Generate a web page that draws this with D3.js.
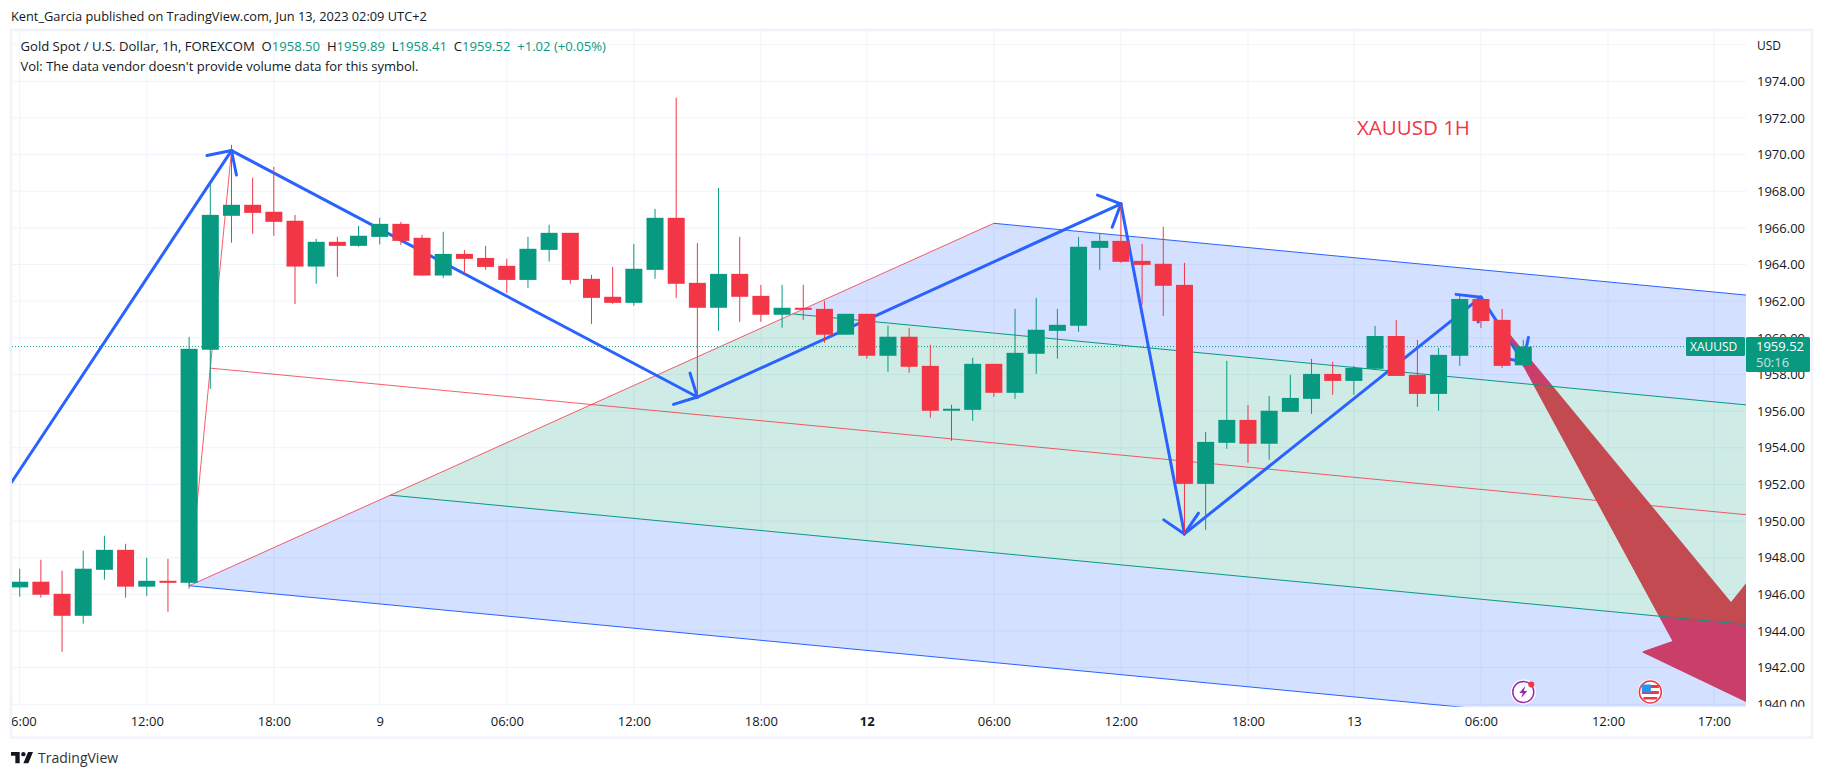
<!DOCTYPE html>
<html>
<head>
<meta charset="utf-8">
<script src="https://cdn.jsdelivr.net/npm/d3@7/dist/d3.min.js"></script>
<style>
  body { margin: 0; background: #fff; }
  svg { display: block; }
  text { font-family: "Open Sans", sans-serif; fill: #131722; }
</style>
</head>
<body>
<div id="chart"></div>
<script>
// hourly candles (bar 0 is the partly hidden 06:00 one)
const barOpen = [1946.38,1946.69,1946.03,1944.83,1947.34,1948.43,1946.42,1946.74,1946.63,1959.35,1966.66,1967.26,1966.88,1966.39,1963.89,1965.24,1965.02,1965.51,1966.22,1965.46,1963.40,1964.58,1964.36,1963.93,1963.16,1964.80,1965.73,1963.22,1962.24,1961.91,1963.71,1966.55,1963.00,1961.64,1963.49,1962.29,1961.26,1961.64,1961.58,1960.17,1961.31,1959.02,1960.06,1958.47,1956.02,1956.07,1958.58,1957.00,1959.13,1960.38,1960.66,1964.91,1965.29,1964.20,1964.04,1962.89,1952.03,1954.27,1955.52,1954.22,1955.96,1956.67,1958.03,1957.65,1958.31,1960.10,1957.98,1956.94,1959.02,1962.12,1960.98,1958.50];
const barHigh = [1947.40,1947.89,1947.29,1948.38,1949.20,1948.76,1948.00,1947.94,1960.05,1968.44,1970.53,1968.73,1969.33,1966.71,1965.40,1965.51,1966.11,1966.55,1966.33,1965.62,1965.79,1964.80,1965.02,1964.31,1965.51,1966.17,1965.73,1963.44,1963.87,1965.13,1967.04,1973.10,1965.18,1968.18,1965.51,1962.89,1962.89,1962.89,1962.02,1961.31,1961.31,1960.66,1960.55,1959.62,1956.35,1958.91,1958.58,1961.58,1962.18,1961.58,1965.51,1965.67,1967.26,1965.13,1966.06,1964.09,1954.87,1958.74,1956.34,1956.83,1957.98,1958.85,1958.69,1958.47,1960.65,1960.98,1959.89,1959.45,1962.29,1962.12,1961.58,1959.89];
const barLow = [1945.87,1945.82,1942.87,1944.40,1946.80,1945.82,1945.92,1945.05,1946.31,1957.22,1965.19,1965.68,1965.57,1961.85,1962.95,1963.33,1964.97,1965.10,1965.08,1963.40,1963.27,1963.49,1963.71,1962.45,1962.73,1964.16,1962.95,1960.76,1961.85,1961.75,1963.22,1962.18,1956.71,1960.38,1960.87,1960.87,1960.55,1960.98,1959.73,1960.17,1958.86,1958.15,1958.09,1955.64,1954.38,1955.47,1956.78,1956.67,1958.04,1958.86,1960.33,1963.71,1964.09,1961.80,1961.20,1949.28,1949.52,1953.94,1953.18,1953.34,1955.96,1955.85,1956.89,1956.89,1958.25,1957.92,1956.23,1956.02,1958.47,1960.54,1958.36,1958.41];
const barClose = [1946.69,1945.98,1944.83,1947.40,1948.43,1946.42,1946.74,1946.63,1959.40,1966.71,1967.26,1966.82,1966.33,1963.89,1965.24,1965.02,1965.57,1966.22,1965.29,1963.40,1964.58,1964.31,1963.87,1963.16,1964.86,1965.73,1963.16,1962.18,1961.91,1963.77,1966.55,1962.95,1961.64,1963.49,1962.24,1961.26,1961.64,1961.53,1960.17,1961.31,1959.02,1960.06,1958.42,1956.02,1956.13,1958.58,1957.00,1959.18,1960.44,1960.71,1964.97,1965.29,1964.15,1963.98,1962.84,1952.03,1954.32,1955.52,1954.22,1956.02,1956.72,1958.03,1957.65,1958.36,1960.10,1957.92,1956.94,1959.07,1962.12,1960.92,1958.47,1959.52];

// axis ticks
const timeTickBars = [0,6,12,17,23,29,35,40,46,52,58,63,69,75,80];
const timeTickLabels = ["06:00","12:00","18:00","9","06:00","12:00","18:00","12","06:00","12:00","18:00","13","06:00","12:00","17:00"];
const priceTicks = d3.range(1940, 1975, 2);
const extraGridPrice = 1976;
const lastPrice = 1959.52;

// pitchfork pivots
const forkBars = [10,8,46];
const forkPrices = [1970.22,1946.47,1966.25];

// blue swing arrows
const swingBars = [-2,10,32,52,55,69,71];
const swingPrices = [1949.3,1970.22,1956.77,1967.31,1949.3,1962.22,1958.68];

// big red forecast arrow
const bigArrowBars = [70,78.09,76.67,82.27,83.5,80.81];
const bigArrowPrices = [1960.65,1943.43,1942.85,1939.76,1949.4,1945.52];

const eventBars = [71,77];

const width = 1823, height = 778;
const pane = { left: 12, right: 1746, top: 30, bottom: 706.7 };
const green = "#089981", red = "#f23645", blue = "#2962ff", gridColor = "#f0f3fa";

const x = d3.scaleLinear().domain([0, 75]).range([19.7, 1608]);
const y = d3.scaleLinear().domain([1940, 1974]).range([704.3, 81.3]);
const bodyWidth = 17;

const svg = d3.select("#chart").append("svg")
  .attr("width", width)
  .attr("height", height);

svg.append("clipPath").attr("id", "paneClip").append("rect")
  .attr("x", pane.left).attr("y", pane.top)
  .attr("width", pane.right - pane.left).attr("height", pane.bottom - pane.top);
svg.append("clipPath").attr("id", "timeClip").append("rect")
  .attr("x", pane.left).attr("y", pane.bottom)
  .attr("width", pane.right - pane.left).attr("height", 30);
svg.append("clipPath").attr("id", "priceClip").append("rect")
  .attr("x", pane.right).attr("y", pane.top)
  .attr("width", 70).attr("height", pane.bottom - pane.top);

// chart frame
svg.append("rect")
  .attr("x", 11).attr("y", 30).attr("width", 1801).attr("height", 707.5)
  .attr("fill", "none").attr("stroke", gridColor).attr("stroke-width", 2.5);

const plot = svg.append("g").attr("clip-path", "url(#paneClip)");

// grid
plot.selectAll(".hgrid").data(priceTicks.concat(extraGridPrice)).join("line")
  .attr("x1", pane.left).attr("x2", pane.right)
  .attr("y1", d => y(d)).attr("y2", d => y(d))
  .attr("stroke", gridColor);
plot.selectAll(".vgrid").data(timeTickBars).join("line")
  .attr("x1", d => x(d)).attr("x2", d => x(d))
  .attr("y1", pane.top).attr("y2", pane.bottom)
  .attr("stroke", gridColor);

// the big arrow sits under the pitchfork fill
plot.append("polygon")
  .attr("points", bigArrowBars.map((b, i) => [x(b), y(bigArrowPrices[i])].join(",")).join(" "))
  .attr("fill", red)
  .attr("stroke", red)
  .attr("stroke-width", 1.5)
  .attr("stroke-linejoin", "round");

// pitchfork, built from the three pivots
const [topBar, lowBar, highBar] = forkBars;
const [topPrice, lowPrice, highPrice] = forkPrices;
const startBar = (topBar + lowBar) / 2, startPrice = (topPrice + lowPrice) / 2;
const midBar = (lowBar + highBar) / 2, midPrice = (lowPrice + highPrice) / 2;
const slope = (midPrice - startPrice) / (midBar - startBar);
const endBar = 90;

// level -1 .. 1 runs along the low pivot -> high pivot line
const forkPoint = level => {
  const t = (level + 1) / 2;
  return [lowBar + (highBar - lowBar) * t, lowPrice + (highPrice - lowPrice) * t];
};
const forkEnd = level => {
  const [b, p] = forkPoint(level);
  return [endBar, p + slope * (endBar - b)];
};
const toPx = ([b, p]) => [x(b), y(p)];

const bands = [
  { from: 0.5, to: 1, fill: "rgba(41,98,255,0.2)" },
  { from: -0.5, to: 0.5, fill: "rgba(8,153,129,0.2)" },
  { from: -1, to: -0.5, fill: "rgba(41,98,255,0.2)" }
];
plot.selectAll(".band").data(bands).join("polygon")
  .attr("points", d => [forkPoint(d.from), forkPoint(d.to), forkEnd(d.to), forkEnd(d.from)].map(toPx).join(" "))
  .attr("fill", d => d.fill);

const tines = [
  { level: 1, color: blue },
  { level: 0.5, color: green },
  { level: -0.5, color: green },
  { level: -1, color: blue }
];
plot.selectAll(".tine").data(tines).join("line")
  .attr("x1", d => x(forkPoint(d.level)[0])).attr("y1", d => y(forkPoint(d.level)[1]))
  .attr("x2", d => x(forkEnd(d.level)[0])).attr("y2", d => y(forkEnd(d.level)[1]))
  .attr("stroke", d => d.color);

const redLines = [
  [[topBar, topPrice], [lowBar, lowPrice]],
  [[lowBar, lowPrice], [highBar, highPrice]],
  [[startBar, startPrice], [endBar, startPrice + slope * (endBar - startBar)]]
];
plot.selectAll(".redline").data(redLines).join("line")
  .attr("x1", d => x(d[0][0])).attr("y1", d => y(d[0][1]))
  .attr("x2", d => x(d[1][0])).attr("y2", d => y(d[1][1]))
  .attr("stroke", red)
  .attr("stroke-opacity", 0.8);

// swing arrows with 45 degree heads
const arrowGroup = plot.append("g")
  .attr("fill", "none").attr("stroke", blue).attr("stroke-width", 3).attr("stroke-linecap", "round");
const headSize = 25;
swingBars.slice(1).forEach((b, i) => {
  const x0 = x(swingBars[i]), y0 = y(swingPrices[i]);
  const x1 = x(b), y1 = y(swingPrices[i + 1]);
  const angle = Math.atan2(y0 - y1, x0 - x1);
  arrowGroup.append("line").attr("x1", x0).attr("y1", y0).attr("x2", x1).attr("y2", y1);
  [-Math.PI / 4, Math.PI / 4].forEach(turn => {
    arrowGroup.append("line")
      .attr("x1", x1).attr("y1", y1)
      .attr("x2", x1 + headSize * Math.cos(angle + turn))
      .attr("y2", y1 + headSize * Math.sin(angle + turn));
  });
});

// last price line
plot.append("line")
  .attr("x1", pane.left).attr("x2", pane.right)
  .attr("y1", y(lastPrice)).attr("y2", y(lastPrice))
  .attr("stroke", green)
  .attr("stroke-dasharray", "1 2");

// candles
const candles = plot.selectAll(".candle").data(barOpen.map((o, i) => i)).join("g");
const candleColor = i => barClose[i] >= barOpen[i] ? green : red;
candles.append("line")
  .attr("x1", i => x(i)).attr("x2", i => x(i))
  .attr("y1", i => y(barHigh[i])).attr("y2", i => y(barLow[i]))
  .attr("stroke", candleColor);
candles.append("rect")
  .attr("x", i => x(i) - bodyWidth / 2)
  .attr("width", bodyWidth)
  .attr("y", i => y(Math.max(barOpen[i], barClose[i])))
  .attr("height", i => Math.max(1, Math.abs(y(barOpen[i]) - y(barClose[i]))))
  .attr("fill", candleColor);

// event badges
const badgeY = 692;
const lightning = plot.append("g").attr("transform", `translate(${x(eventBars[0])},${badgeY})`);
lightning.append("circle").attr("r", 12.5).attr("fill", "#fff");
lightning.append("circle").attr("r", 10.5).attr("fill", "none").attr("stroke", "#9c27b0").attr("stroke-width", 1.5);
lightning.append("path").attr("d", "M2 -6 L-4 1 L-0.5 1 L-2 6 L4 -1 L0.5 -1 Z").attr("fill", "#9c27b0");
lightning.append("circle").attr("cx", 8).attr("cy", -7.5).attr("r", 3).attr("fill", red);
const flag = plot.append("g").attr("transform", `translate(${x(eventBars[1])},${badgeY})`);
flag.append("circle").attr("r", 12.5).attr("fill", "#fff");
flag.append("circle").attr("r", 11).attr("fill", "none").attr("stroke", red).attr("stroke-width", 1.5);
flag.append("rect").attr("x", -8.5).attr("y", -7).attr("width", 17).attr("height", 3).attr("fill", red);
flag.append("rect").attr("x", -8.5).attr("y", -1).attr("width", 17).attr("height", 3).attr("fill", red);
flag.append("rect").attr("x", -7).attr("y", 5).attr("width", 14).attr("height", 2.5).attr("fill", red);
flag.append("rect").attr("x", -8.5).attr("y", -7.5).attr("width", 9).attr("height", 8).attr("fill", "#2196f3");

// axes
const priceAxis = d3.axisRight(y).tickValues(priceTicks).tickFormat(d3.format(".2f")).tickSize(0).tickPadding(0);
const priceG = svg.append("g").attr("clip-path", "url(#priceClip)")
  .append("g").attr("transform", `translate(${pane.right + 11},0)`).call(priceAxis);
priceG.select(".domain").remove();
priceG.selectAll("text").style("font-size", "13px").style("font-family", null).attr("fill", null);

const timeAxis = d3.axisBottom(x).tickValues(timeTickBars)
  .tickFormat((d, i) => timeTickLabels[i]).tickSize(0).tickPadding(0);
const timeG = svg.append("g").attr("clip-path", "url(#timeClip)")
  .append("g").attr("transform", `translate(0,${pane.bottom + 10})`).call(timeAxis);
timeG.select(".domain").remove();
timeG.selectAll("text").style("font-size", "13px").attr("fill", null)
  .style("font-weight", (d, i) => timeTickLabels[i] === "12" ? "bold" : null);

svg.append("text").attr("x", 1757).attr("y", 50).style("font-size", "12px").text("USD");

// last price tags
svg.append("rect").attr("x", 1686).attr("y", 337).attr("width", 59).attr("height", 19).attr("rx", 1.5).attr("fill", green);
svg.append("rect").attr("x", 1746).attr("y", 337).attr("width", 64).attr("height", 35).attr("rx", 1.5).attr("fill", green);
svg.append("text").attr("x", 1690).attr("y", 351).style("font-size", "12px").style("fill", "#fff").text("XAUUSD");
svg.append("text").attr("x", 1756).attr("y", 351).style("font-size", "13px").style("fill", "#fff").text(d3.format(".2f")(lastPrice));
svg.append("text").attr("x", 1756).attr("y", 367).style("font-size", "13px").style("fill", "#fff").style("opacity", 0.75).text("50:16");

// titles
svg.append("text").attr("x", 11).attr("y", 21).style("font-size", "12.8px")
  .text("Kent_Garcia published on TradingView.com, Jun 13, 2023 02:09 UTC+2");

const legend = svg.append("text").attr("x", 20.5).attr("y", 51).style("font-size", "13.1px");
[["Gold Spot / U.S. Dollar, 1h, FOREXCOM  O", "#131722"], ["1958.50", green], ["  H", "#131722"], ["1959.89", green],
 ["  L", "#131722"], ["1958.41", green], ["  C", "#131722"], ["1959.52", green], ["  +1.02 (+0.05%)", green]]
  .forEach(([t, c]) => legend.append("tspan").style("fill", c).style("white-space", "pre").text(t));

svg.append("text").attr("x", 20.5).attr("y", 71).style("font-size", "13px")
  .text("Vol: The data vendor doesn't provide volume data for this symbol.");

svg.append("text").attr("x", 1357).attr("y", 135).style("font-size", "20.5px").style("fill", red).text("XAUUSD 1H");

// footer logo
const logo = svg.append("g").attr("transform", "translate(11,752) scale(0.62)").attr("fill", "#131722");
logo.append("path").attr("d", "M14 0H0v6h7v12h7V0ZM28 18h-8l7.5-18h8L28 18Z");
logo.append("circle").attr("cx", 20).attr("cy", 3.5).attr("r", 3.5);
svg.append("text").attr("x", 38).attr("y", 763).style("font-size", "14px").style("fill", "#333").text("TradingView");
</script>
</body>
</html>
